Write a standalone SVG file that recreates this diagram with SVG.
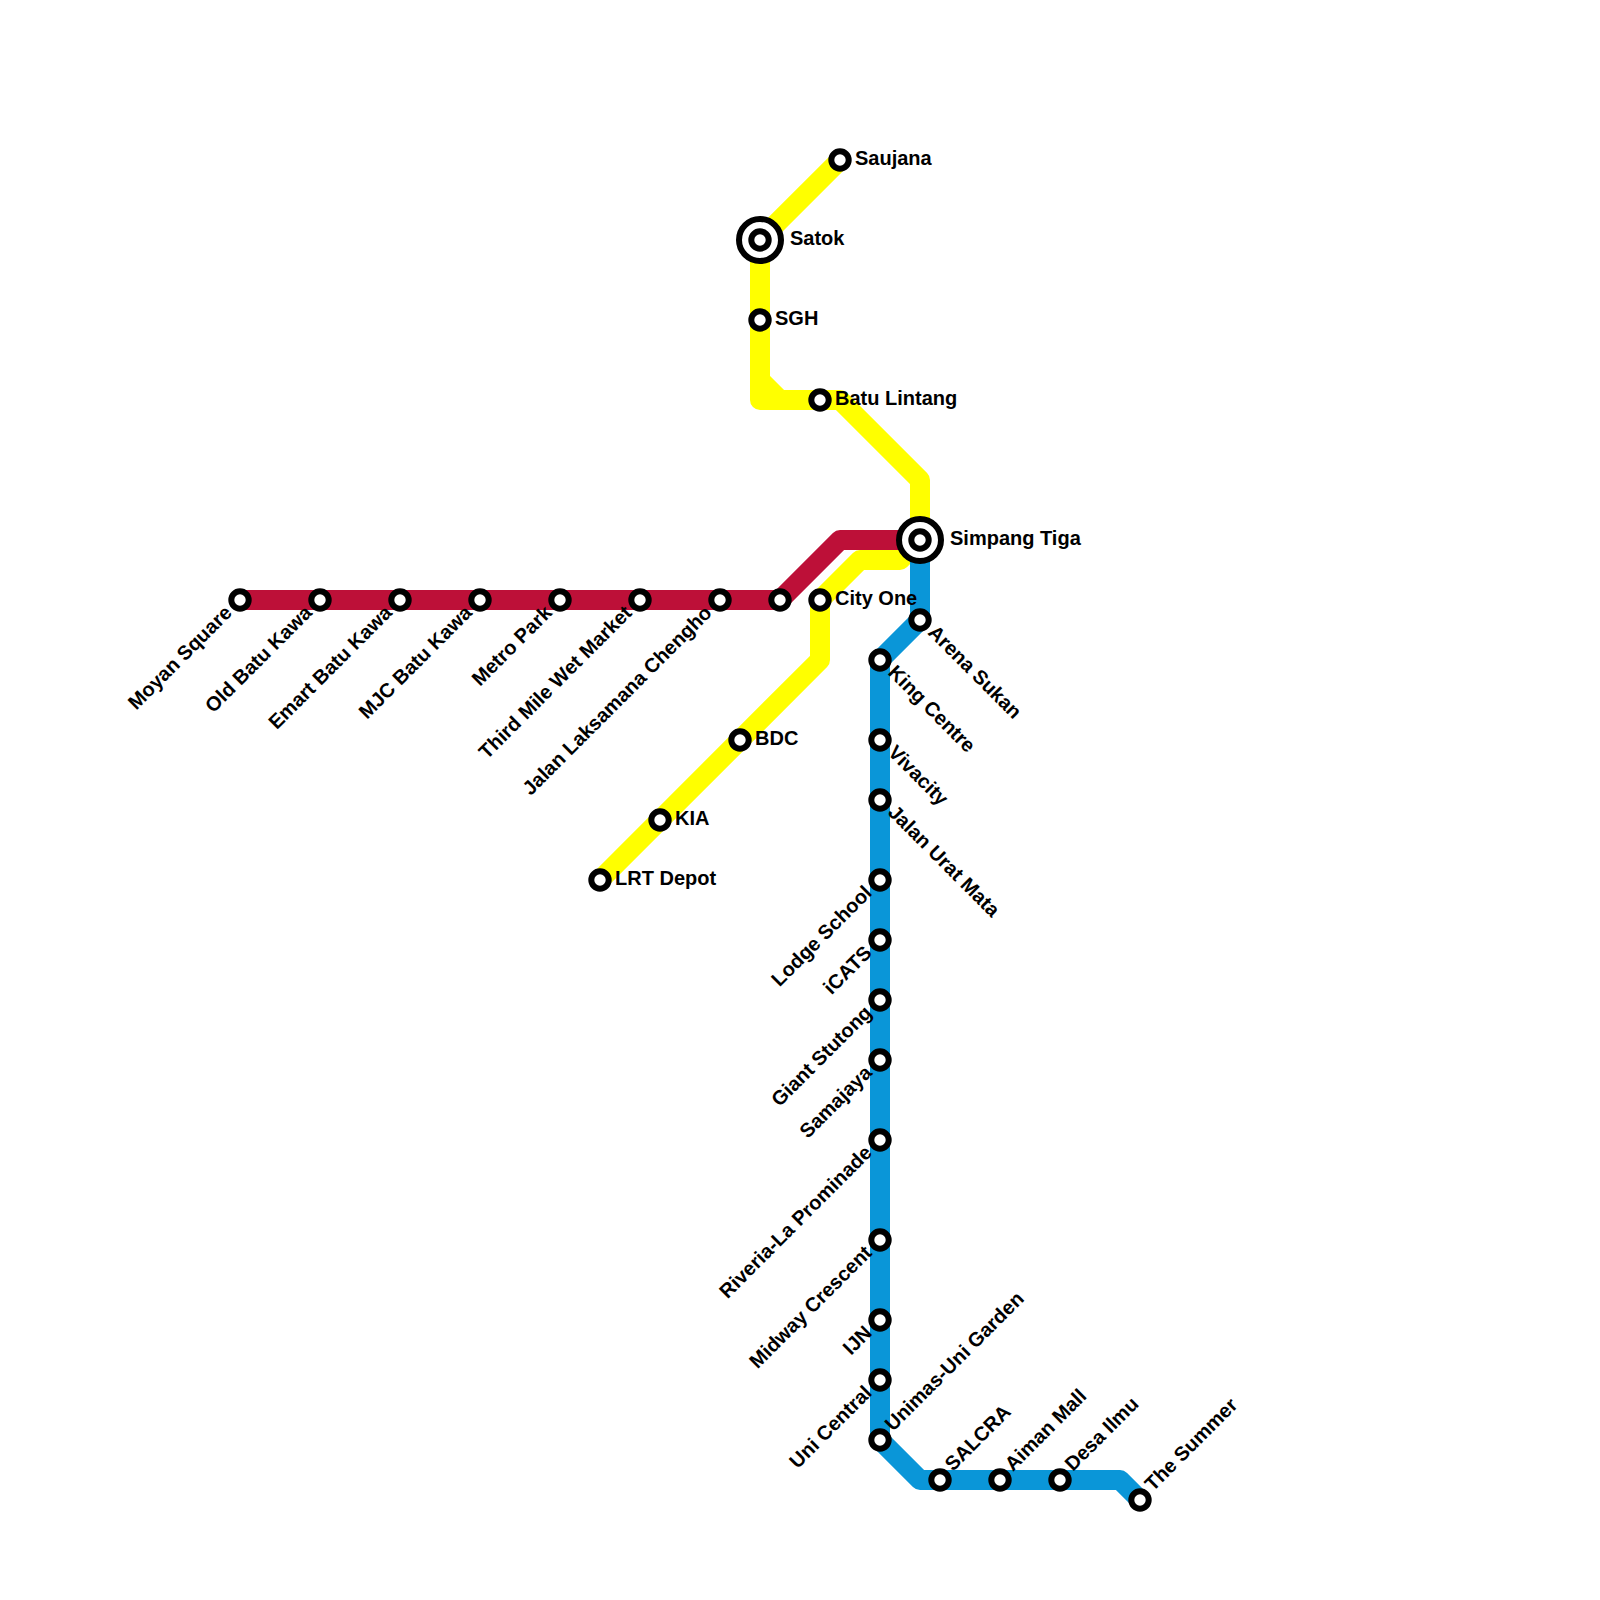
<svg xmlns="http://www.w3.org/2000/svg" width="1600" height="1600" viewBox="0 0 1600 1600">
<style>
.l{fill:none;stroke-width:20;stroke-linejoin:round;stroke-linecap:butt}
.y{stroke:#ffff00}.b{stroke:#0a96d8}.r{stroke:#bd1038}
.s{fill:#fff;stroke:#000;stroke-width:6}
text{font-family:"Liberation Sans",Arial,sans-serif;font-weight:bold;font-size:20px;fill:#000}
.e{text-anchor:end}
</style>
<rect width="1600" height="1600" fill="#fff"/>
<g id="connectors">
<path class="l y" d="M840 160L760 240V400H840L920 480V540"/>
<path class="l y" d="M760 380L780 400"/>
<path class="l y" d="M920 540L900 560H860L820 600V660L600 880"/>
<path class="l b" d="M920 540V620L880 660V1440L920 1480H1120L1140 1500"/>
<path class="l r" d="M240 600H780L840 540H920"/>
</g>
<g id="moyan-square"><circle class="s" cx="240" cy="600" r="8.7"/><text class="e" transform="translate(233,614) rotate(-45)">Moyan Square</text></g>
<g id="old-batu-kawa"><circle class="s" cx="320" cy="600" r="8.7"/><text class="e" transform="translate(313,614) rotate(-45)">Old Batu Kawa</text></g>
<g id="emart-batu-kawa"><circle class="s" cx="400" cy="600" r="8.7"/><text class="e" transform="translate(393,614) rotate(-45)">Emart Batu Kawa</text></g>
<g id="mjc-batu-kawa"><circle class="s" cx="480" cy="600" r="8.7"/><text class="e" transform="translate(473,614) rotate(-45)">MJC Batu Kawa</text></g>
<g id="metro-park"><circle class="s" cx="560" cy="600" r="8.7"/><text class="e" transform="translate(553,614) rotate(-45)">Metro Park</text></g>
<g id="third-mile"><circle class="s" cx="640" cy="600" r="8.7"/><text class="e" transform="translate(633,614) rotate(-45)">Third Mile Wet Market</text></g>
<g id="jalan-laksamana"><circle class="s" cx="720" cy="600" r="8.7"/><text class="e" transform="translate(713,614) rotate(-45)">Jalan Laksamana Chengho</text></g>
<g id="red-end"><circle class="s" cx="780" cy="600" r="8.7"/></g>
<g id="saujana"><circle class="s" cx="840" cy="160" r="8.7"/><text x="855" y="165">Saujana</text></g>
<g id="satok"><circle class="s" cx="760" cy="240" r="21"/><circle class="s" cx="760" cy="240" r="8.7"/><text x="790" y="245">Satok</text></g>
<g id="sgh"><circle class="s" cx="760" cy="320" r="8.7"/><text x="775" y="325">SGH</text></g>
<g id="batu-lintang"><circle class="s" cx="820" cy="400" r="8.7"/><text x="835" y="405">Batu Lintang</text></g>
<g id="simpang-tiga"><circle class="s" cx="920" cy="540" r="21"/><circle class="s" cx="920" cy="540" r="8.7"/><text x="950" y="545">Simpang Tiga</text></g>
<g id="city-one"><circle class="s" cx="820" cy="600" r="8.7"/><text x="835" y="605">City One</text></g>
<g id="bdc"><circle class="s" cx="740" cy="740" r="8.7"/><text x="755" y="745">BDC</text></g>
<g id="kia"><circle class="s" cx="660" cy="820" r="8.7"/><text x="675" y="825">KIA</text></g>
<g id="lrt-depot"><circle class="s" cx="600" cy="880" r="8.7"/><text x="615" y="885">LRT Depot</text></g>
<g id="arena-sukan"><circle class="s" cx="920" cy="620" r="8.7"/><text transform="translate(927,633.5) rotate(45)">Arena Sukan</text></g>
<g id="king-centre"><circle class="s" cx="880" cy="660" r="8.7"/><text transform="translate(887,673.5) rotate(45)">King Centre</text></g>
<g id="vivacity"><circle class="s" cx="880" cy="740" r="8.7"/><text transform="translate(887,753.5) rotate(45)">Vivacity</text></g>
<g id="jalan-urat-mata"><circle class="s" cx="880" cy="800" r="8.7"/><text transform="translate(887,813.5) rotate(45)">Jalan Urat Mata</text></g>
<g id="lodge-school"><circle class="s" cx="880" cy="880" r="8.7"/><text class="e" transform="translate(873,894) rotate(-45)">Lodge School</text></g>
<g id="icats"><circle class="s" cx="880" cy="940" r="8.7"/><text class="e" transform="translate(873,954) rotate(-45)">iCATS</text></g>
<g id="giant-stutong"><circle class="s" cx="880" cy="1000" r="8.7"/><text class="e" transform="translate(873,1014) rotate(-45)">Giant Stutong</text></g>
<g id="samajaya"><circle class="s" cx="880" cy="1060" r="8.7"/><text class="e" transform="translate(873,1074) rotate(-45)">Samajaya</text></g>
<g id="riveria"><circle class="s" cx="880" cy="1140" r="8.7"/><text class="e" transform="translate(873,1154) rotate(-45)">Riveria-La Prominade</text></g>
<g id="midway"><circle class="s" cx="880" cy="1240" r="8.7"/><text class="e" transform="translate(873,1254) rotate(-45)">Midway Crescent</text></g>
<g id="ijn"><circle class="s" cx="880" cy="1320" r="8.7"/><text class="e" transform="translate(873,1334) rotate(-45)">IJN</text></g>
<g id="uni-central"><circle class="s" cx="880" cy="1380" r="8.7"/><text class="e" transform="translate(873,1394) rotate(-45)">Uni Central</text></g>
<g id="unimas"><circle class="s" cx="880" cy="1440" r="8.7"/><text transform="translate(893,1432) rotate(-45)">Unimas-Uni Garden</text></g>
<g id="salcra"><circle class="s" cx="940" cy="1480" r="8.7"/><text transform="translate(953,1472) rotate(-45)">SALCRA</text></g>
<g id="aiman"><circle class="s" cx="1000" cy="1480" r="8.7"/><text transform="translate(1013,1472) rotate(-45)">Aiman Mall</text></g>
<g id="desa-ilmu"><circle class="s" cx="1060" cy="1480" r="8.7"/><text transform="translate(1073,1472) rotate(-45)">Desa Ilmu</text></g>
<g id="the-summer"><circle class="s" cx="1140" cy="1500" r="8.7"/><text transform="translate(1153,1492) rotate(-45)">The Summer</text></g>
</svg>
